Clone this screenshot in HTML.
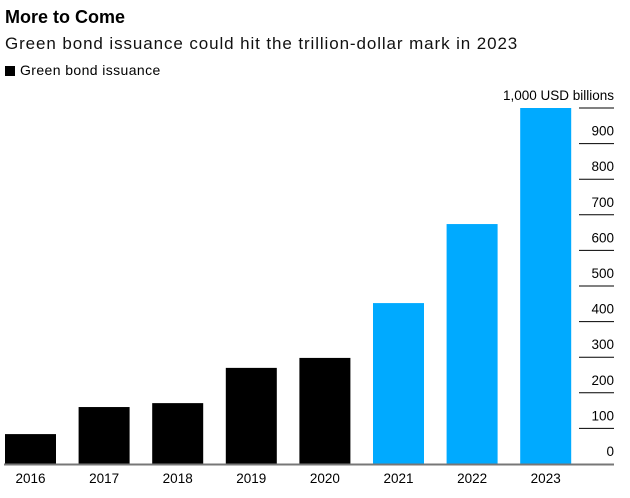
<!DOCTYPE html>
<html><head><meta charset="utf-8"><style>
body{margin:0;background:#fff;font-family:"Liberation Sans",sans-serif;width:630px;height:498px;overflow:hidden}
#t{position:absolute;left:5px;top:7px;font-size:18px;font-weight:bold;color:#000}
#s{position:absolute;left:5px;top:34px;font-size:17px;letter-spacing:0.9px;color:#111}
#l{position:absolute;left:5px;top:62px;font-size:14px;letter-spacing:0.4px;color:#000}
#l span{display:inline-block;width:10px;height:10px;background:#000;margin-right:5px;vertical-align:-1px}
svg{position:absolute;left:0;top:0}
</style></head><body>
<div id="t">More to Come</div>
<div id="s">Green bond issuance could hit the trillion-dollar mark in 2023</div>
<div id="l"><span></span>Green bond issuance</div>
<svg id="c" width="630" height="498"></svg>
<script>
const categories=["2016","2017","2018","2019","2020","2021","2022","2023"];
const values=[84,160,171,270,298,452,674,1000];
const forecast=[false,false,false,false,false,true,true,true];
const ticks=[0,100,200,300,400,500,600,700,800,900,1000];
const tickLabels=["0","100","200","300","400","500","600","700","800","900","1,000 USD billions"];
const NS="http://www.w3.org/2000/svg",svg=document.getElementById('c');
const y=v=>464-v*0.356;
const x=i=>5+i*73.6;
const bw=51;
function mk(t,a){const e=document.createElementNS(NS,t);for(const k in a)e.setAttribute(k,a[k]);svg.appendChild(e);return e;}
ticks.forEach((t,i)=>{
 if(i>0){const ln=mk('line',{x1:579,x2:614,y1:y(t),y2:y(t),stroke:'#000','stroke-width':1});
 
 }
 const tx=mk('text',{x:614,y:y(t)-8,'text-anchor':'end','font-size':13.5,fill:'#000'});
 tx.textContent=tickLabels[i];
 
 
});
values.forEach((v,i)=>{
 const r=mk('rect',{x:x(i),y:y(v),width:bw,height:464-y(v),fill:forecast[i]?'#00aaff':'#000'});
 
 
 const tx=mk('text',{x:x(i)+bw/2,y:483,'text-anchor':'middle','font-size':13.5,fill:'#000'});
 tx.textContent=categories[i];
 
 
});
const b=mk('line',{x1:4,x2:614,y1:464.5,y2:464.5,stroke:'#777','stroke-width':2});


</script>
</body></html>
